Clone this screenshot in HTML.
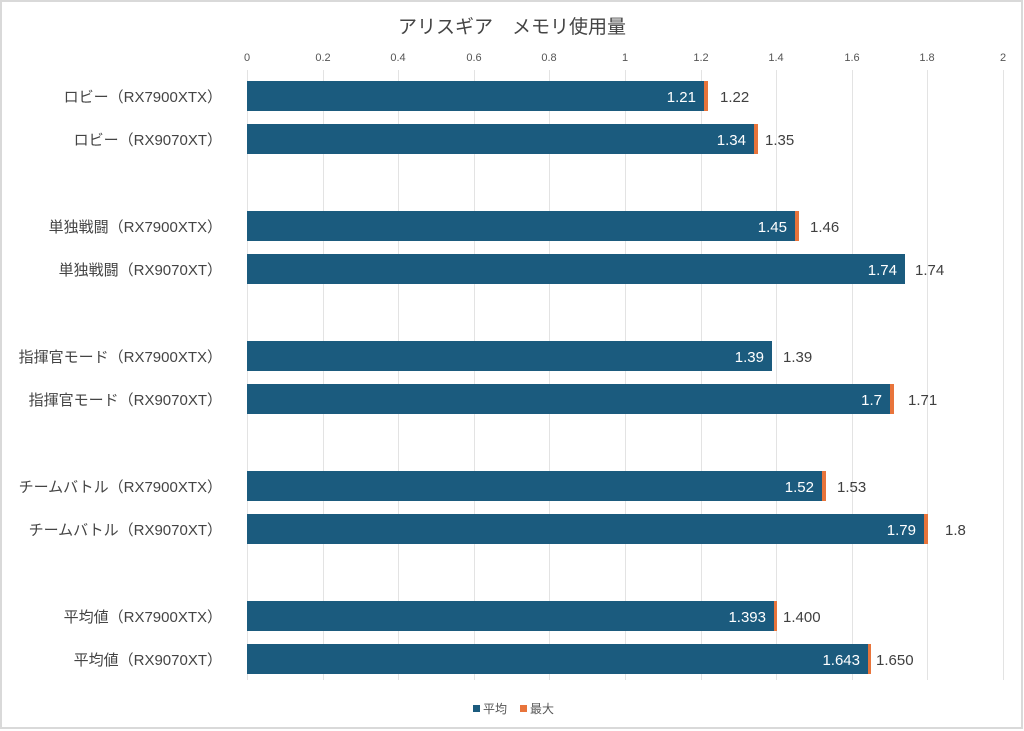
<!DOCTYPE html>
<html><head><meta charset="utf-8"><style>
html,body{margin:0;padding:0;background:#fff}
svg{display:block}
text{font-family:"Liberation Sans","Noto Sans CJK JP",sans-serif}
</style></head><body>
<svg width="1024" height="731" xmlns="http://www.w3.org/2000/svg">
<rect x="1" y="1" width="1021" height="727" fill="#fff" stroke="#d9d9d9" stroke-width="2"/>
<text x="512" y="33" font-size="19" fill="#444" text-anchor="middle">アリスギア　メモリ使用量</text>
<g stroke="#e3e3e3" stroke-width="1">
<line x1="247.5" y1="70" x2="247.5" y2="680"/>
<line x1="323.5" y1="70" x2="323.5" y2="680"/>
<line x1="398.5" y1="70" x2="398.5" y2="680"/>
<line x1="474.5" y1="70" x2="474.5" y2="680"/>
<line x1="549.5" y1="70" x2="549.5" y2="680"/>
<line x1="625.5" y1="70" x2="625.5" y2="680"/>
<line x1="701.5" y1="70" x2="701.5" y2="680"/>
<line x1="776.5" y1="70" x2="776.5" y2="680"/>
<line x1="852.5" y1="70" x2="852.5" y2="680"/>
<line x1="927.5" y1="70" x2="927.5" y2="680"/>
<line x1="1003.5" y1="70" x2="1003.5" y2="680"/>
</g>
<g font-size="11" fill="#555" text-anchor="middle">
<text x="247" y="61">0</text><text x="323" y="61">0.2</text><text x="398" y="61">0.4</text><text x="474" y="61">0.6</text><text x="549" y="61">0.8</text><text x="625" y="61">1</text><text x="701" y="61">1.2</text><text x="776" y="61">1.4</text><text x="852" y="61">1.6</text><text x="927" y="61">1.8</text><text x="1003" y="61">2</text>
</g>
<g font-size="15" fill="#444" text-anchor="end">
<text x="222" y="102">ロビー（RX7900XTX）</text>
<text x="222" y="145">ロビー（RX9070XT）</text>
<text x="222" y="232">単独戦闘（RX7900XTX）</text>
<text x="222" y="275">単独戦闘（RX9070XT）</text>
<text x="222" y="362">指揮官モード（RX7900XTX）</text>
<text x="222" y="405">指揮官モード（RX9070XT）</text>
<text x="222" y="492">チームバトル（RX7900XTX）</text>
<text x="222" y="535">チームバトル（RX9070XT）</text>
<text x="222" y="622">平均値（RX7900XTX）</text>
<text x="222" y="665">平均値（RX9070XT）</text>
</g>
<g fill="#1b5b7e">
<rect x="247" y="81" width="457" height="30"/>
<rect x="247" y="124" width="507" height="30"/>
<rect x="247" y="211" width="548" height="30"/>
<rect x="247" y="254" width="658" height="30"/>
<rect x="247" y="341" width="525" height="30"/>
<rect x="247" y="384" width="643" height="30"/>
<rect x="247" y="471" width="575" height="30"/>
<rect x="247" y="514" width="677" height="30"/>
<rect x="247" y="601" width="527" height="30"/>
<rect x="247" y="644" width="621" height="30"/>
</g>
<g fill="#e8743b">
<rect x="704" y="81" width="4" height="30"/>
<rect x="754" y="124" width="4" height="30"/>
<rect x="795" y="211" width="4" height="30"/>
<rect x="890" y="384" width="4" height="30"/>
<rect x="822" y="471" width="4" height="30"/>
<rect x="924" y="514" width="4" height="30"/>
<rect x="774" y="601" width="3" height="30"/>
<rect x="868" y="644" width="3" height="30"/>
</g>
<g font-size="15" fill="#fff" text-anchor="end">
<text x="696" y="102">1.21</text>
<text x="746" y="145">1.34</text>
<text x="787" y="232">1.45</text>
<text x="897" y="275">1.74</text>
<text x="764" y="362">1.39</text>
<text x="882" y="405">1.7</text>
<text x="814" y="492">1.52</text>
<text x="916" y="535">1.79</text>
<text x="766" y="622">1.393</text>
<text x="860" y="665">1.643</text>
</g>
<g font-size="15" fill="#404040">
<text x="720" y="102">1.22</text>
<text x="765" y="145">1.35</text>
<text x="810" y="232">1.46</text>
<text x="915" y="275">1.74</text>
<text x="783" y="362">1.39</text>
<text x="908" y="405">1.71</text>
<text x="837" y="492">1.53</text>
<text x="945" y="535">1.8</text>
<text x="783" y="622">1.400</text>
<text x="876" y="665">1.650</text>
</g>
<rect x="473" y="705" width="7" height="7" fill="#1b5b7e"/>
<text x="483" y="713" font-size="12" fill="#555">平均</text>
<rect x="520" y="705" width="7" height="7" fill="#e8743b"/>
<text x="530" y="713" font-size="12" fill="#555">最大</text>
</svg>
</body></html>
